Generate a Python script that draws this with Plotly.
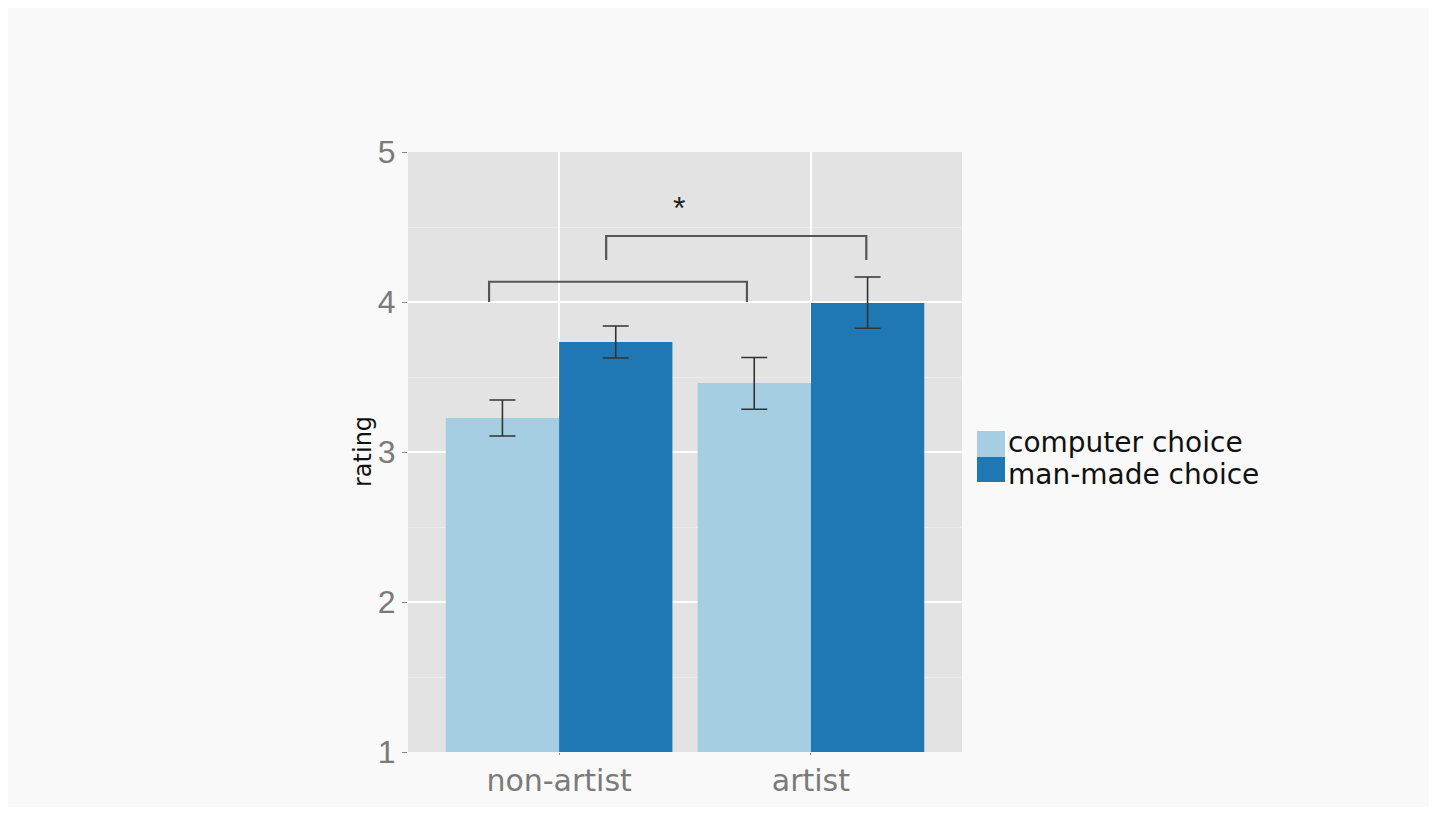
import plotly.graph_objects as go

categories = ["non-artist", "artist"]
series_names = ["computer choice", "man-made choice"]
computer_vals = [3.227, 3.46]
computer_hi = [3.347, 3.63]
computer_lo = [3.107, 3.285]
manmade_vals = [3.733, 3.993]
manmade_hi = [3.84, 4.167]
manmade_lo = [3.627, 3.825]
colors = ["#a6cee3", "#1f78b4"]

# significance brackets: (x_left, x_right, y_top, y_bottom) in category-index units
brackets = [(-0.278, 0.746, 4.135, 4.0), (0.187, 1.22, 4.44, 4.28)]
star = (0.476, 4.63, "*")

fig = go.Figure()
for name, vals, hi, lo, col in [
    (series_names[0], computer_vals, computer_hi, computer_lo, colors[0]),
    (series_names[1], manmade_vals, manmade_hi, manmade_lo, colors[1]),
]:
    fig.add_trace(go.Bar(
        x=categories, y=[v - 1 for v in vals], base=1, name=name,
        marker=dict(color=col, line=dict(width=0)),
        showlegend=False,
        error_y=dict(type="data", symmetric=False,
                     array=[h - v for h, v in zip(hi, vals)],
                     arrayminus=[v - l for v, l in zip(vals, lo)],
                     color="#333333", thickness=1.6, width=13),
    ))

for x0, x1, yt, yb in brackets:
    fig.add_shape(type="path",
                  path=f"M {x0} {yb} L {x0} {yt} L {x1} {yt} L {x1} {yb}",
                  line=dict(color="#555555", width=2.2), xref="x", yref="y")

fig.add_annotation(x=star[0], y=star[1], text=star[2], showarrow=False,
                   font=dict(size=32, color="#222222", family="Liberation Sans"),
                   xref="x", yref="y")

# legend (keys + labels) placed to the right of the panel
legend_keys = [(0.4917, 0.535), (0.45, 0.4917)]
legend_text_y = [0.516, 0.463]
for name, col, (ky0, ky1), ty in zip(series_names, colors, legend_keys, legend_text_y):
    fig.add_shape(type="rect", xref="paper", yref="paper",
                  x0=1.027, x1=1.0776, y0=ky0, y1=ky1,
                  fillcolor=col, line=dict(width=0))
    fig.add_annotation(xref="paper", yref="paper", x=1.0812, y=ty,
                       xanchor="left", yanchor="middle", showarrow=False,
                       text=name, borderpad=0,
                       font=dict(size=28, color="#111111", family="DejaVu Sans"))

# y-axis title
fig.add_annotation(xref="paper", yref="paper", x=-0.0812, y=0.5,
                   xanchor="center", yanchor="middle", showarrow=False,
                   text="rating", textangle=-90,
                   font=dict(size=24, color="#111111", family="DejaVu Sans"))

fig.update_layout(
    width=1421, height=799,
    margin=dict(l=400, r=467, t=144, b=55),
    paper_bgcolor="#f9f9f9", plot_bgcolor="#e3e3e3",
    barmode="group", bargap=0.1, bargroupgap=0,
    font=dict(family="Liberation Sans", color="#222222"),
    showlegend=False,
)
fig.update_xaxes(
    type="category", range=[-0.6, 1.6], automargin=False,
    showgrid=True, gridcolor="#ffffff", gridwidth=1.5,
    ticks="outside", ticklen=2, tickcolor="#888888",
    tickfont=dict(size=30, color="#7a7a7a", family="DejaVu Sans"),
    zeroline=False, showline=False,
)
fig.update_yaxes(
    range=[1, 5], dtick=1, tick0=1, automargin=False,
    showgrid=True, gridcolor="#ffffff", gridwidth=1.5,
    minor=dict(dtick=0.5, tick0=1, showgrid=True, gridcolor="#ececec", gridwidth=1),
    ticks="outside", ticklen=5, tickcolor="#888888",
    tickfont=dict(size=32, color="#7a7a7a"), zeroline=False, showline=False,
)

fig.write_html("out.html")
